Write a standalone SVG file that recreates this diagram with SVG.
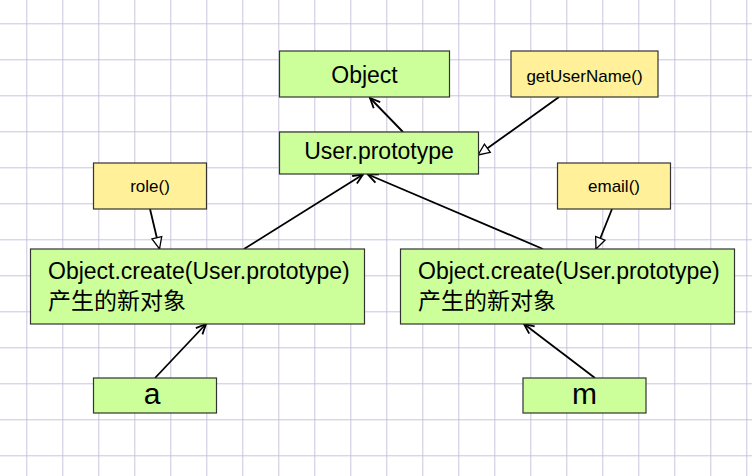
<svg xmlns="http://www.w3.org/2000/svg" width="752" height="476" viewBox="0 0 752 476">
<defs>
<pattern id="grid" x="26.3" y="23.3" width="36" height="36" patternUnits="userSpaceOnUse">
<path d="M0.5,0 V36 M0,0.5 H36" fill="none" stroke="#c9c4dd" stroke-width="1"/>
</pattern>
<marker id="open" markerUnits="userSpaceOnUse" markerWidth="14" markerHeight="14" viewBox="0 0 14 14" refX="12" refY="7" orient="auto">
<path d="M2,2.5 L12,7 L2,11.5" fill="none" stroke="#000" stroke-width="1.8" stroke-linejoin="miter"/>
</marker>
<marker id="tri" markerUnits="userSpaceOnUse" markerWidth="16" markerHeight="16" viewBox="0 0 16 16" refX="13" refY="8" orient="auto">
<path d="M1.5,3 L13,8 L1.5,13 Z" fill="#fff" stroke="#000" stroke-width="1.3"/>
</marker>
</defs>
<style>
.g{fill:#ccff99;stroke:#333;stroke-width:1.2}
.y{fill:#fff099;stroke:#333;stroke-width:1.2}
text{font-family:"Liberation Sans","Noto Sans CJK SC",Arial,sans-serif;fill:#000}
.big{font-size:23px}
.sm{font-size:17px}
.xl{font-size:30px}
.c{text-anchor:middle}
.e{fill:none;stroke:#000;stroke-width:1.8}
</style>
<rect width="752" height="476" fill="#fff"/>
<rect width="752" height="476" fill="url(#grid)"/>
<g id="connectors">
<line class="e" x1="403" y1="132" x2="370" y2="98" marker-end="url(#open)"/>
<line class="e" x1="559" y1="97" x2="478" y2="155" marker-end="url(#tri)"/>
<line class="e" x1="150" y1="209" x2="159.5" y2="249" marker-end="url(#tri)"/>
<line class="e" x1="612" y1="209" x2="596" y2="249" marker-end="url(#tri)"/>
<line class="e" x1="244" y1="249" x2="363" y2="174.5" marker-end="url(#open)"/>
<line class="e" x1="543" y1="249" x2="368" y2="174.5" marker-end="url(#open)"/>
<line class="e" x1="155" y1="378" x2="206" y2="324" marker-end="url(#open)"/>
<line class="e" x1="595" y1="378" x2="524" y2="324" marker-end="url(#open)"/>
</g>
<g id="object">
<rect class="g" x="279.5" y="51" width="170" height="46"/>
<text class="big c" x="364.5" y="82.5">Object</text>
</g>
<g id="getUserName">
<rect class="y" x="511" y="51" width="147" height="46"/>
<text class="sm c" x="584.5" y="81.5">getUserName()</text>
</g>
<g id="userPrototype">
<rect class="g" x="279.5" y="132" width="199" height="42"/>
<text class="big c" x="379" y="159.3">User.prototype</text>
</g>
<g id="role">
<rect class="y" x="93.5" y="163" width="113" height="46"/>
<text class="sm c" x="150" y="191.7">role()</text>
</g>
<g id="email">
<rect class="y" x="557.5" y="163" width="113" height="46"/>
<text class="sm c" x="614" y="191.7">email()</text>
</g>
<g id="objLeft">
<rect class="g" x="30.5" y="249" width="334" height="75"/>
<text class="big" x="48" y="279.3">Object.create(User.prototype)</text>
<text class="big" x="48" y="308.5">产生的新对象</text>
</g>
<g id="objRight">
<rect class="g" x="400.5" y="249" width="334" height="75"/>
<text class="big" x="418" y="279.3">Object.create(User.prototype)</text>
<text class="big" x="418" y="308.5">产生的新对象</text>
</g>
<g id="a">
<rect class="g" x="93.5" y="378" width="123" height="35"/>
<text class="xl c" x="152" y="404.3">a</text>
</g>
<g id="m">
<rect class="g" x="523" y="378" width="123" height="35"/>
<text class="xl c" x="584.5" y="404.3">m</text>
</g>
</svg>
